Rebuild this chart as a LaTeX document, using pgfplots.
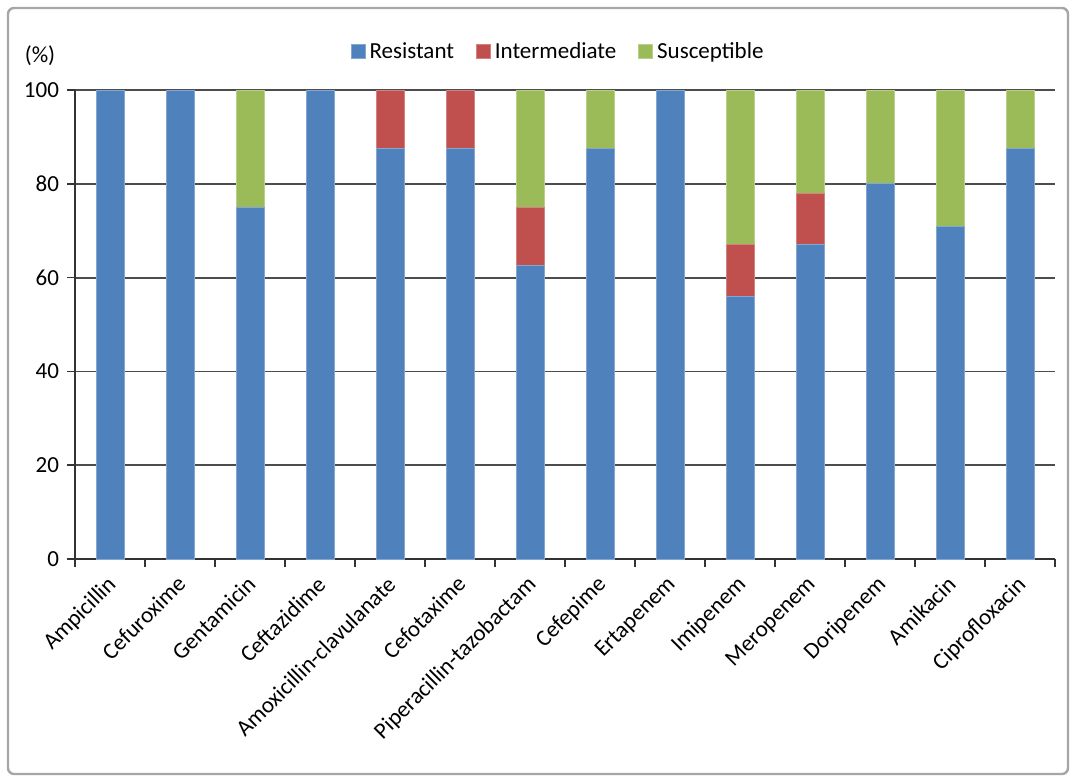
\documentclass[border=0pt]{standalone}
\usepackage{fontspec}
\setmainfont{Carlito}
\usepackage{pgfplots}
\usepackage{pgfplotstable}
\pgfplotsset{compat=1.18}
\definecolor{cR}{HTML}{4F81BD}
\definecolor{cI}{HTML}{C0504D}
\definecolor{cS}{HTML}{9BBB59}
\pgfplotstableread{
idx R I S
0 100 0 0
1 100 0 0
2 75 0 25
3 100 0 0
4 87.5 12.5 0
5 87.5 12.5 0
6 62.5 12.5 25
7 87.5 0 12.5
8 100 0 0
9 56 11 33
10 67 11 22
11 80 0 20
12 71 0 29
13 87.5 0 12.5
}\data
\begin{document}
\fontsize{11.5}{13.5}\selectfont
\begin{tikzpicture}
\begin{axis}[
  scale only axis, width=490pt, height=234.5pt,
  ybar stacked, bar width=14pt,
  xmin=-0.5, xmax=13.5, ymin=0, ymax=100,
  clip=false,
  axis x line*=bottom, axis y line*=left,
  axis line style={black!80, line width=0.8pt},
  xtick={0,...,13},
  xticklabels={Ampicillin,Cefuroxime,Gentamicin,Ceftazidime,Amoxicillin-clavulanate,Cefotaxime,Piperacillin-tazobactam,Cefepime,Ertapenem,Imipenem,Meropenem,Doripenem,Amikacin,Ciprofloxacin},
  major x tick style={draw=none},
  minor xtick={-0.5,0.5,...,13.5},
  minor x tick style={black!80, line width=0.8pt},
  minor tick length=4pt,
  major tick length=4pt,
  tick align=outside,
  ytick={0,20,...,100},
  ytick style={black!80, line width=0.8pt},
  ymajorgrids, grid style={black!70, line width=0.9pt},
  xticklabel style={rotate=45, anchor=north east, font=\fontsize{11.5}{13.5}\selectfont, inner sep=0pt, yshift=-1pt, xshift=-4pt},
  yticklabel style={font=\fontsize{11.5}{13.5}\selectfont},
  /pgf/number format/assume math mode=true,
  legend style={at={(0.494,1)}, anchor=south, yshift=10pt, draw=none, fill=none,
    legend columns=-1, font=\fontsize{11.5}{13.5}\selectfont,
    /tikz/every even column/.append style={column sep=9pt}},
  legend image code/.code={\fill[#1] (0pt,-3.5pt) rectangle (7pt,3.5pt);},
]
\addplot[fill=cR, draw=cR!70!white] table[x=idx, y=R] {\data};
\addplot[fill=cI, draw=cI!70!white] table[x=idx, y=I] {\data};
\addplot[fill=cS, draw=cS!70!white] table[x=idx, y=S] {\data};
\legend{Resistant,Intermediate,Susceptible}
\node[anchor=center] at ([xshift=-17.5pt,yshift=17pt]rel axis cs:0,1) {(\%)};
\path ([xshift=-37.5pt,yshift=45pt]rel axis cs:0,1) rectangle ([xshift=10pt,yshift=-111.5pt]rel axis cs:1,0);
\draw[black!35, line width=1.2pt, rounded corners=3pt]
  ([xshift=-33.5pt,yshift=41pt]rel axis cs:0,1) rectangle ([xshift=6.5pt,yshift=-107.5pt]rel axis cs:1,0);
\end{axis}
\end{tikzpicture}
\end{document}
